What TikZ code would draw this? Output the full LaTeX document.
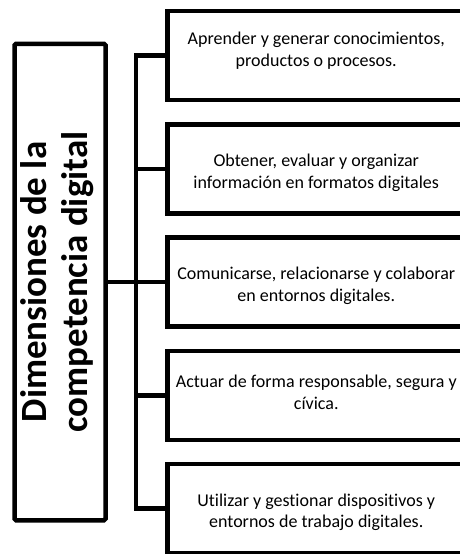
\documentclass[tikz,border=0pt]{standalone}
\usepackage{fontspec}
\setmainfont{Carlito}[Ligatures=NoCommon]
\begin{document}
\begin{tikzpicture}[x=1pt,y=-1pt,line width=4.5pt,
    dimbox/.style={draw,rounded corners=1.5pt,minimum width=91pt,minimum height=476.5pt,inner sep=0pt},
    itembox/.style={draw,minimum width=298pt,minimum height=89pt,anchor=west,inner sep=0pt},
    itemtext/.style={align=center,font=\fontsize{18}{21.5}\selectfont},
    conn/.style={line join=miter}]
        \useasboundingbox (0,0) rectangle (460,554);
            \node[dimbox] (dim) at (60,282) {};
            \node[rotate=90,align=center,font=\fontsize{37}{41}\selectfont\bfseries] (title) at (57.5,282)
                {Dimensiones de la\\competencia digital};
            \coordinate (bus) at (136,0);
            \foreach \i/\dy/\txt in {1/-5/{Aprender y generar conocimientos,\\productos o procesos.},
                                     2/4/{Obtener, evaluar y organizar\\información en formatos digitales},
                                     3/4/{Comunicarse, relacionarse y colaborar\\en entornos digitales.},
                                     4/-3/{Actuar de forma responsable, segura y\\cívica.},
                                     5/4/{Utilizar y gestionar dispositivos y\\entornos de trabajo digitales.}}{
                \node[itembox] (b\i) at (165,{55.5+113.25*(\i-1)}) {};
                \node[itemtext] (t\i) at ([yshift={-\dy}]b\i.center) {\txt};
            }
            \draw[conn] (b1.west) -| (bus |- b5.west) -- (b5.west);
            \foreach \i in {2,3,4}
                \draw (bus |- b\i.west) -- (b\i.west);
            \draw (dim.east) -- (bus |- dim.east);
\end{tikzpicture}
\end{document}
